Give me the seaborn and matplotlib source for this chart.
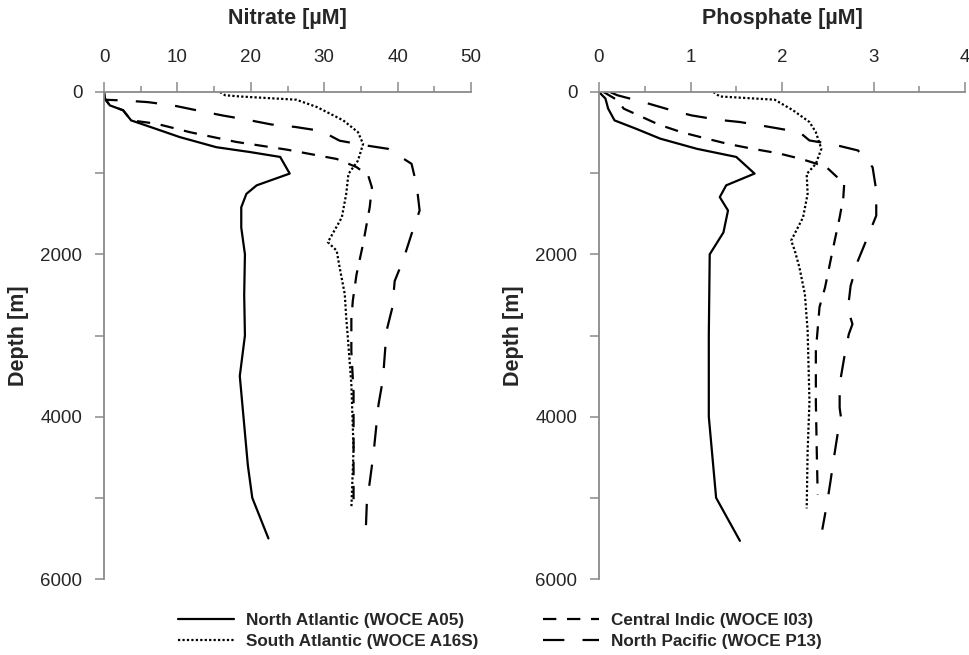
import numpy as np
import pandas as pd
import matplotlib
matplotlib.use("Agg")
import matplotlib.pyplot as plt
from matplotlib.ticker import MultipleLocator
import seaborn as sns

sns.set_theme(style="white")
plt.rcParams["font.family"] = ["Liberation Sans", "DejaVu Sans"]

series_names = ["North Atlantic (WOCE A05)", "South Atlantic (WOCE A16S)",
                "Central Indic (WOCE I03)", "North Pacific (WOCE P13)"]

# ---------------- Nitrate [uM] ----------------
na_n_depth = [0, 80, 165, 225, 350, 455, 555, 680, 740, 800, 1005, 1150, 1255, 1420, 1670,
              2000, 2500, 3000, 3500, 4000, 4600, 5000, 5500]
na_n_val = [0, 0.1, 0.8, 2.6, 3.7, 7.1, 10.3, 15.3, 19.9, 24.0, 25.3, 20.8, 19.4, 18.7, 18.7,
            19.2, 19.1, 19.2, 18.5, 19.0, 19.6, 20.2, 22.4]

sa_n_depth = [0, 40, 55, 95, 185, 350, 495, 640, 845, 1010, 1255, 1545, 1850, 1955, 2160,
              2490, 2780, 3000, 3600, 4400, 5130]
sa_n_val = [15.8, 16.5, 18.5, 26.2, 29.0, 32.6, 34.6, 35.3, 34.6, 33.3, 33.0, 32.4, 30.5, 31.7, 32.1,
            32.8, 33.0, 33.2, 33.7, 34.0, 33.7]

ci_n_depth = [0, 80, 165, 225, 350, 390, 495, 615, 710, 825, 925, 1030, 1175, 1420, 1870,
              2250, 2570, 2800, 3200, 3700, 4200, 4900, 5100]
ci_n_val = [0, 0.1, 0.8, 2.6, 3.7, 7.1, 11.7, 18.0, 24.9, 31.7, 34.4, 36.0, 36.5, 36.2, 35.3,
            34.4, 33.9, 33.7, 33.7, 34.0, 34.0, 34.0, 34.0]

np_n_depth = [0, 95, 105, 125, 165, 225, 290, 340, 400, 430, 480, 600, 660, 700, 885, 1150,
              1460, 1750, 2060, 2330, 2650, 2940, 3540, 3850, 4470, 5080, 5560]
np_n_val = [0, 0, 2.8, 6.0, 9.4, 12.6, 16.2, 19.4, 22.8, 26.0, 29.6, 32.1, 35.8, 38.7, 41.9, 42.6,
            43.0, 41.9, 40.8, 39.6, 39.3, 38.5, 38.0, 37.4, 36.7, 35.8, 35.6]

# ---------------- Phosphate [uM] ----------------
na_p_depth = [0, 80, 205, 350, 455, 575, 700, 800, 1005, 1150, 1295, 1460, 1730, 2000,
              3000, 4000, 5000, 5530]
na_p_val = [0, 0.07, 0.1, 0.17, 0.41, 0.67, 1.07, 1.5, 1.7, 1.39, 1.32, 1.41, 1.36, 1.21,
            1.2, 1.2, 1.28, 1.54]

sa_p_depth = [0, 55, 95, 225, 370, 495, 700, 885, 1010, 1255, 1545, 1830, 1955, 2160, 2490,
              2940, 3810, 4430, 5130]
sa_p_val = [1.25, 1.32, 1.92, 2.12, 2.3, 2.37, 2.43, 2.37, 2.27, 2.28, 2.23, 2.1, 2.14, 2.19, 2.25,
            2.28, 2.3, 2.28, 2.27]

ci_p_depth = [0, 100, 205, 400, 495, 570, 640, 700, 755, 825, 920, 1130, 1300, 1545, 1915,
              2410, 2650, 3190, 3810, 4430, 4960]
ci_p_val = [0.05, 0.2, 0.27, 0.65, 0.9, 1.16, 1.41, 1.68, 1.96, 2.21, 2.48, 2.68, 2.67, 2.63, 2.56,
            2.47, 2.41, 2.37, 2.37, 2.38, 2.39]

np_p_depth = [0, 40, 123, 218, 288, 342, 370, 424, 473, 494, 597, 646, 720, 926, 1214, 1523,
              1831, 2078, 2388, 2675, 2860, 2984, 3272, 3602, 3890, 4055, 4199, 4487, 4796,
              5084, 5392]
np_p_val = [0.12, 0.2, 0.48, 0.77, 1.01, 1.3, 1.54, 1.83, 2.08, 2.19, 2.3, 2.56, 2.83, 2.99, 3.03, 3.03,
            2.92, 2.83, 2.75, 2.72, 2.77, 2.73, 2.68, 2.63, 2.63, 2.65, 2.61, 2.57, 2.53,
            2.49, 2.44]

nitrate = [(na_n_val, na_n_depth), (sa_n_val, sa_n_depth), (ci_n_val, ci_n_depth), (np_n_val, np_n_depth)]
phosphate = [(na_p_val, na_p_depth), (sa_p_val, sa_p_depth), (ci_p_val, ci_p_depth), (np_p_val, np_p_depth)]

line_styles = ["-", (0, (1, 1)), (0, (6, 4.8)), (0, (9.6, 8.2))]
LW = 1.6
SPINE_C = "#8a8a8a"

W, H = 969, 655
fig = plt.figure(figsize=(W / 100, H / 100), dpi=100)
ax1 = fig.add_axes([104 / W, 76 / H, 367 / W, 487 / H])
ax2 = fig.add_axes([599 / W, 76 / H, 366 / W, 487 / H])


def draw(ax, data, xmax, xmaj, xmin_, title):
    for (vals, depths), name, ls in zip(data, series_names, line_styles):
        df = pd.DataFrame({"value": vals, "depth": depths})
        sns.lineplot(data=df, x="value", y="depth", ax=ax, color="black", linewidth=LW,
                     linestyle=ls, sort=False, estimator=None, legend=False)
        ax.get_lines()[-1].set_label(name)
    ax.set_xlim(0, xmax)
    ax.set_ylim(6000, 0)
    ax.xaxis.tick_top()
    ax.xaxis.set_label_position("top")
    ax.xaxis.set_major_locator(MultipleLocator(xmaj))
    ax.xaxis.set_minor_locator(MultipleLocator(xmin_))
    ax.yaxis.set_major_locator(MultipleLocator(2000))
    ax.yaxis.set_minor_locator(MultipleLocator(1000))
    ax.tick_params(axis="x", which="major", direction="out", length=7, width=1.1,
                   color=SPINE_C, labelsize=13.5, pad=12, top=True, bottom=False)
    ax.tick_params(axis="x", which="minor", direction="out", length=4.5, width=1.1,
                   color=SPINE_C, top=True, bottom=False)
    ax.tick_params(axis="y", which="both", direction="out", length=6.5, width=1.1,
                   color=SPINE_C, labelsize=13.5, pad=9, left=True, right=False)
    for s in ["right", "bottom"]:
        ax.spines[s].set_visible(False)
    for s in ["top", "left"]:
        ax.spines[s].set_color(SPINE_C)
        ax.spines[s].set_linewidth(1.3)
    ax.set_xlabel(title, fontsize=15.5, fontweight="bold", labelpad=18)
    ax.set_ylabel("Depth [m]", fontsize=15.5, fontweight="bold", labelpad=8)
    ax.set_facecolor("white")


draw(ax1, nitrate, 50, 10, 5, "Nitrate [µM]")
draw(ax2, phosphate, 4, 1, 0.5, "Phosphate [µM]")

handles = ax1.get_lines()[:4]
fig.legend(handles, series_names, ncol=2, loc="center", bbox_to_anchor=(0.516, 0.037),
           frameon=False, prop={"weight": "bold", "size": 12.3}, handlelength=3.28,
           handletextpad=0.7, columnspacing=3.8, labelspacing=0.35)

fig.savefig("out.png", dpi=100, facecolor="white")
